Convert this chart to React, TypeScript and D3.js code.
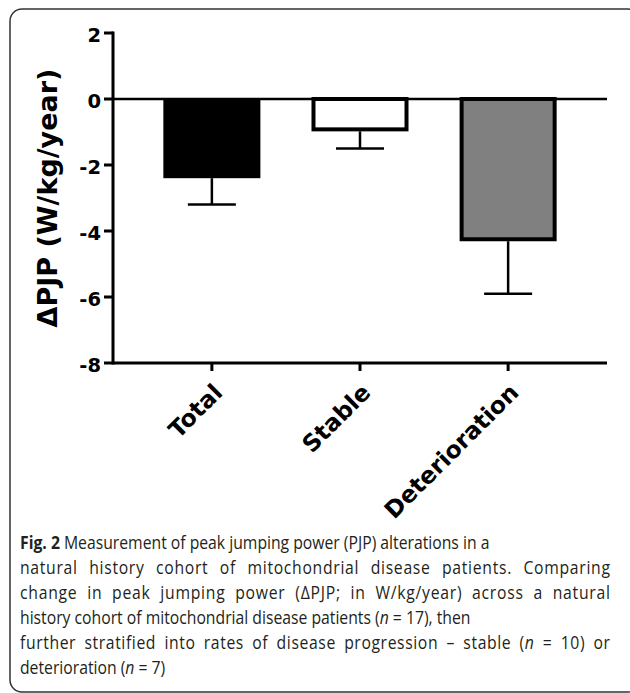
import * as React from 'react';
import * as d3 from 'd3';

const groups = ['Total', 'Stable', 'Deterioration'];
const means = [-2.4, -0.92, -4.25];
const sems = [0.8, 0.58, 1.65];
const fills = ['#000000', '#ffffff', '#808080'];
const yTicks = [2, 0, -2, -4, -6, -8];

const captionLines = [
  [{ t: 'Fig. 2', b: true }, { t: ' Measurement of peak jumping power (PJP) alterations in a' }],
  [{ t: 'natural history cohort of mitochondrial disease patients. Comparing' }],
  [{ t: 'change in peak jumping power (\u0394PJP; in W/kg/year) across a natural' }],
  [{ t: 'history cohort of mitochondrial disease patients (' }, { t: 'n', i: true }, { t: ' = 17), then' }],
  [{ t: 'further stratified into rates of disease progression \u2013 stable (' }, { t: 'n', i: true }, { t: ' = 10) or' }],
  [{ t: 'deterioration (' }, { t: 'n', i: true }, { t: ' = 7)' }],
];
// lines that are set justified in the printed caption
const justified = [false, true, true, false, true, false];

const W = 630;
const H = 693;
const axisFont = '"DejaVu Sans", sans-serif';
const capScale = 0.9;
const capWidth = 590;

const App = () => {
  const capRefs = React.useRef<(SVGTextElement | null)[]>([]);

  const x = d3.scaleBand().domain(groups).range([113, 607]).paddingInner(0.345).paddingOuter(0.34);
  const y = d3.scaleLinear().domain([-8, 2]).range([363, 33]);
  const capW = 48;

  React.useLayoutEffect(() => {
    // spread the justified lines: half of the slack between letters, half between words
    const justify = () => {
      capRefs.current.forEach((el, i) => {
        if (!el || !justified[i]) return;
        el.removeAttribute('letter-spacing');
        el.removeAttribute('word-spacing');
        const len = el.getComputedTextLength();
        const n = el.getNumberOfChars();
        const txt = captionLines[i].map((s) => s.t).join('');
        const spaces = txt.split(' ').length - 1;
        const slack = capWidth / capScale - len;
        el.setAttribute('letter-spacing', String((slack / 2) / (n - 1)));
        el.setAttribute('word-spacing', String((slack / 2) / spaces));
      });
    };
    justify();
    if ((document as any).fonts) (document as any).fonts.ready.then(justify);
  }, []);

  return (
    <div style={{ position: 'absolute', left: 0, top: 0 }}>
      <svg width={W} height={H} style={{ display: 'block' }}>
        <rect x={10} y={9} width={630} height={683} rx={12} fill="none" stroke="#333" strokeWidth={1.5} />

        {/* bars */}
        {groups.map((g, i) => {
          const x0 = x(g) as number;
          const bw = x.bandwidth();
          const sw = i === 0 ? 0 : 4;
          return (
            <rect
              key={g}
              x={x0 + sw / 2}
              y={y(0)}
              width={bw - sw}
              height={y(means[i]) - y(0)}
              fill={fills[i]}
              stroke="#000"
              strokeWidth={sw}
            />
          );
        })}

        {/* error bars (downward only) */}
        {groups.map((g, i) => {
          const cx = (x(g) as number) + x.bandwidth() / 2;
          const yb = y(means[i]) + (i === 0 ? 0 : 2);
          const ye = y(means[i] - sems[i]);
          return (
            <g key={'e' + g} stroke="#000" strokeWidth={2.5}>
              <line x1={cx} x2={cx} y1={yb} y2={ye} />
              <line x1={cx - capW / 2} x2={cx + capW / 2} y1={ye} y2={ye} />
            </g>
          );
        })}

        {/* zero line */}
        <line x1={113} x2={607} y1={y(0)} y2={y(0)} stroke="#000" strokeWidth={2.5} />

        {/* y axis */}
        <line x1={113} x2={113} y1={y(2) - 1.5} y2={y(-8) + 1.5} stroke="#000" strokeWidth={3} />
        {yTicks.map((t) => (
          <g key={'yt' + t}>
            <line x1={104} x2={113} y1={y(t)} y2={y(t)} stroke="#000" strokeWidth={3} />
            <text
              x={101}
              y={y(t)}
              dy="0.45em"
              textAnchor="end"
              fontFamily={axisFont}
              fontWeight="bold"
              fontSize={19.5}
              fill="#000"
            >
              {t}
            </text>
          </g>
        ))}

        {/* x axis */}
        <line x1={113} x2={607} y1={y(-8)} y2={y(-8)} stroke="#000" strokeWidth={3} />
        {groups.map((g) => {
          const cx = (x(g) as number) + x.bandwidth() / 2;
          return (
            <g key={'xt' + g}>
              <line x1={cx} x2={cx} y1={y(-8)} y2={y(-8) + 8} stroke="#000" strokeWidth={3} />
              <text
                transform={`translate(${cx + 12},${y(-8) + 31}) rotate(-45)`}
                textAnchor="end"
                fontFamily={axisFont}
                fontWeight="bold"
                fontSize={23.5}
                fill="#000"
              >
                {g}
              </text>
            </g>
          );
        })}

        {/* y label */}
        <text
          transform={`translate(57,${(y(2) + y(-8)) / 2}) rotate(-90)`}
          textAnchor="middle"
          fontFamily={axisFont}
          fontWeight="bold"
          fontSize={27}
          fill="#000"
        >
          {'\u0394PJP (W/kg/year)'}
        </text>

        {/* caption */}
        {captionLines.map((line, li) => (
          <text
            key={'c' + li}
            ref={(el) => {
              capRefs.current[li] = el;
            }}
            transform={`translate(20,${549 + li * 25}) scale(${capScale},1)`}
            fontFamily='"Open Sans", sans-serif'
            fontSize={17.5}
            fill="#231f20"
          >
            {line.map((s: any, si) => (
              <tspan key={si} fontWeight={s.b ? 'bold' : 'normal'} fontStyle={s.i ? 'italic' : 'normal'}>
                {s.t}
              </tspan>
            ))}
          </text>
        ))}
      </svg>
    </div>
  );
};

export default App;
